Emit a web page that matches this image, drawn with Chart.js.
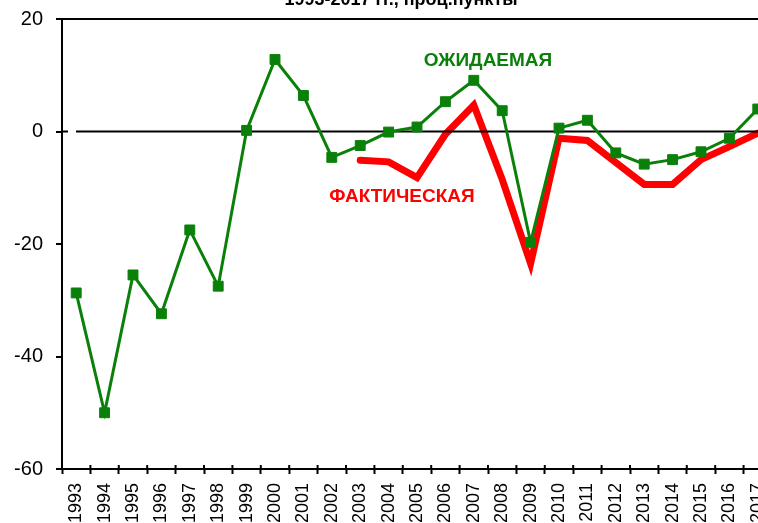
<!DOCTYPE html>
<html>
<head>
<meta charset="utf-8">
<script src="https://cdn.jsdelivr.net/npm/chart.js@4.4.1/dist/chart.umd.min.js"></script>
<style>
  html, body { margin: 0; padding: 0; background: #fff; overflow: hidden; }
  #wrap { width: 800px; height: 523px; position: relative; }
</style>
</head>
<body>
<div id="wrap"><canvas id="chart"></canvas></div>
<script>
// Данные
const years = ['1993','1994','1995','1996','1997','1998','1999','2000','2001','2002','2003','2004','2005',
               '2006','2007','2008','2009','2010','2011','2012','2013','2014','2015','2016','2017'];
const expected = [-28.7, -50, -25.5, -32.4, -17.5, -27.5, 0.2, 12.8, 6.4, -4.6, -2.5, -0.1, 0.8,
                  5.3, 9.1, 3.7, -19.7, 0.6, 2.0, -3.8, -5.8, -5.0, -3.6, -1.2, 4.0];
const actual = [null, null, null, null, null, null, null, null, null, null, -5.1, -5.4, -8.2,
                -0.5, 4.7, -8.5, -23.5, -1.2, -1.6, -5.5, -9.4, -9.4, -5.0, -2.7, -0.3];
const yTicks = [20, 0, -20, -40, -60];

const GREEN = '#0a800a';
const RED = '#ff0000';
Chart.defaults.font.family = "'Liberation Sans', Arial, sans-serif";
Chart.defaults.color = '#000';

// надписи, нулевая линия, засечки
const decor = {
    id: 'decor',
    afterDatasetDraw(chart, args) {
        if (args.index !== 1) return;
        const { ctx, chartArea, scales } = chart;
        const y0 = scales.y.getPixelForValue(0);
        ctx.save();
        ctx.strokeStyle = '#000';
        ctx.lineWidth = 2;
        ctx.beginPath();
        ctx.moveTo(chartArea.left, y0);
        ctx.lineTo(chartArea.left + 6, y0);
        ctx.moveTo(chartArea.left + 14, y0);
        ctx.lineTo(chartArea.right, y0);
        ctx.stroke();
        ctx.restore();
    },
    afterDraw(chart) {
        const { ctx, chartArea, scales } = chart;
        const x = scales.x, y = scales.y;
        ctx.save();
        // внутренние засечки оси X
        const step = x.getPixelForValue(1) - x.getPixelForValue(0);
        ctx.strokeStyle = '#000';
        ctx.lineWidth = 2;
        ctx.beginPath();
        for (let i = 0; i <= years.length; i++) {
            const px = x.getPixelForValue(i) - step / 2;
            ctx.moveTo(px, chartArea.bottom - 4);
            ctx.lineTo(px, chartArea.bottom);
        }
        ctx.stroke();

        ctx.textAlign = 'center';
        ctx.textBaseline = 'middle';
        ctx.font = "bold 19px 'Liberation Sans', Arial, sans-serif";
        ctx.fillStyle = GREEN;
        ctx.fillText('ОЖИДАЕМАЯ', x.getPixelForValue(14.5), y.getPixelForValue(12.6));
        ctx.fillStyle = RED;
        ctx.fillText('ФАКТИЧЕСКАЯ', x.getPixelForValue(11.47), y.getPixelForValue(-11.6));

        // заголовок (обрезан сверху)
        ctx.fillStyle = '#000';
        ctx.textBaseline = 'alphabetic';
        ctx.font = "bold 18px 'Liberation Sans', Arial, sans-serif";
        ctx.fillText('1993-2017 гг., проц.пункты', 401, 5);
        ctx.restore();
    }
};

new Chart(document.getElementById('chart'), {
    type: 'line',
    data: {
        labels: years,
        datasets: [
            {
                label: 'ОЖИДАЕМАЯ',
                data: expected,
                borderColor: GREEN,
                backgroundColor: GREEN,
                borderWidth: 3,
                pointStyle: 'rect',
                pointRadius: 7,
                pointBorderWidth: 1,
                pointBackgroundColor: GREEN,
                pointBorderColor: GREEN,
                tension: 0
            },
            {
                label: 'ФАКТИЧЕСКАЯ',
                data: actual,
                borderColor: RED,
                borderWidth: 7,
                pointRadius: 0,
                borderCapStyle: 'round',
                borderJoinStyle: 'miter',
                tension: 0
            }
        ]
    },
    options: {
        responsive: true,
        maintainAspectRatio: false,
        animation: false,
        layout: { padding: { top: 19, right: 28, left: 0, bottom: 0 } },
        plugins: { legend: { display: false }, tooltip: { enabled: false } },
        scales: {
            x: {
                offset: true,
                afterFit: (s) => { s.height = 54; s.paddingLeft = 0; s.paddingRight = 0; },
                border: { display: true, color: '#000', width: 2 },
                grid: { offset: true, drawOnChartArea: false, tickLength: 5, tickColor: '#000', tickWidth: 2 },
                ticks: { minRotation: 90, maxRotation: 90, autoSkip: false, padding: 9, font: { size: 18 }, color: '#000' }
            },
            y: {
                min: -60,
                max: 20,
                afterFit: (s) => { s.width = 62; s.paddingTop = 0; s.paddingBottom = 0; },
                afterBuildTicks: (s) => { s.ticks = yTicks.map(v => ({ value: v })); },
                border: { display: true, color: '#000', width: 2 },
                grid: {
                    color: (c) => c.tick && c.tick.value === 20 ? '#000' : 'rgba(0,0,0,0)',
                    lineWidth: 2,
                    tickLength: 6,
                    tickColor: '#000',
                    tickWidth: 2
                },
                ticks: { padding: 13, font: { size: 20 }, color: '#000' }
            }
        }
    },
    plugins: [decor]
});
</script>
</body>
</html>
